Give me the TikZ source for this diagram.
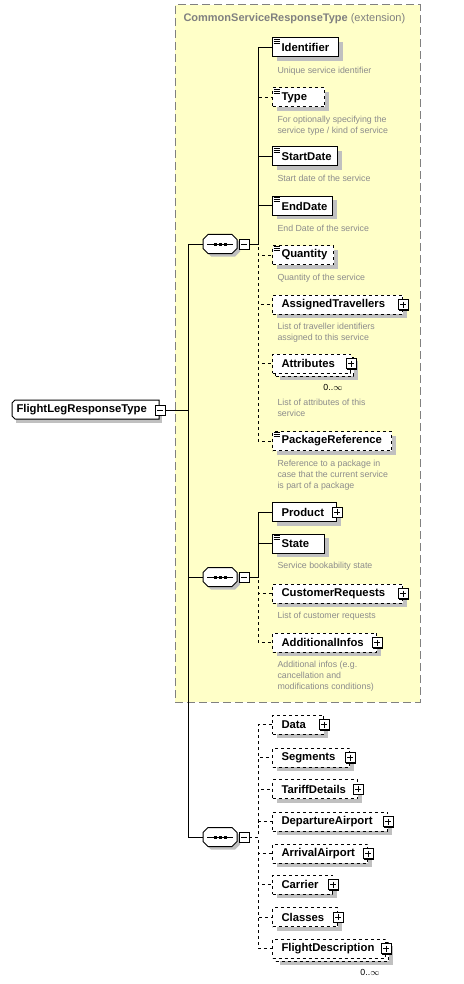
\documentclass[tikz,border=0pt]{standalone}
\usepackage{fontspec}
\setmainfont{Liberation Sans}
\usetikzlibrary{positioning,calc,shadows}
\definecolor{xsdyellow}{RGB}{255,255,200}
\definecolor{xsdgray}{RGB}{128,128,128}
\definecolor{docgray}{RGB}{140,140,140}
\definecolor{shadegray}{RGB}{192,192,192}
\tikzset{
  ext/.style={draw=xsdgray, dash pattern=on 8pt off 4pt, fill=xsdyellow, minimum width=245pt, minimum height=697pt, inner sep=0pt},
  title/.style={text=xsdgray, inner sep=0pt, font=\fontsize{11}{13}\selectfont},
  sh/.style={drop shadow={shadow xshift=4pt, shadow yshift=-4pt, fill=shadegray, opacity=1}},
  elem/.style={draw, fill=white, rectangle, anchor=west, minimum height=19pt, inner xsep=9pt, inner ysep=0pt, align=left, font=\fontsize{11.3}{13}\selectfont\bfseries},
  optelem/.style={elem, dashed},
  desc/.style={inner sep=0pt, anchor=north west, align=left, text=docgray, font=\fontsize{8.8}{11}\selectfont},
  mult/.style={inner sep=0pt, font=\fontsize{8.8}{11}\selectfont},
  root/.style={fill=white, rectangle, anchor=west, minimum height=18pt, inner xsep=4pt, inner ysep=0pt, align=left, font=\fontsize{11.3}{13}\selectfont\bfseries, drop shadow={shadow xshift=3pt, shadow yshift=-4pt, fill=shadegray, opacity=1}},
  seq/.style={rectangle, minimum width=34pt, minimum height=19pt, inner sep=0pt},
  smallbox/.style={draw, fill=white, solid, line width=.8pt, minimum size=10pt, inner sep=0pt, drop shadow={shadow xshift=1pt, shadow yshift=-1pt, fill=black, opacity=1}},
  plusbox/.style={smallbox, path picture={\draw[line width=.8pt] ([yshift=-2pt]path picture bounding box.north) -- ([yshift=2pt]path picture bounding box.south) ([xshift=2pt]path picture bounding box.west) -- ([xshift=-2pt]path picture bounding box.east);}},
  minusbox/.style={smallbox, path picture={\draw[line width=.8pt] ([xshift=2pt]path picture bounding box.west) -- ([xshift=-2pt]path picture bounding box.east);}}
}
\begin{document}
\begin{tikzpicture}[x=1pt,y=-1pt,line width=1pt]
\useasboundingbox (0,0) rectangle (463,984);

% extension base type
\node[ext] (ext) at (297.5,353.5) {};
\node[title, anchor=west] (exttitle) at (183,19) {\textbf{CommonServiceResponseType} (extension)};

% root
\node[root, text width=138pt] (root) at (12,409.5) {FlightLegResponseType};
\draw ([yshift=-3pt]root.north west) -- ([xshift=3pt]root.north west) -- (root.north east) -- (root.south east) -- ([xshift=3pt]root.south west) -- ([yshift=3pt]root.south west) -- cycle;
\node[minusbox] (rootm) at (160,410) {};

% compositors
\node[seq] (seqA) at (220,244) {};
\node[seq] (seqB) at (220,577) {};
\node[seq] (seqC) at (220,837) {};
\foreach \s in {seqA,seqB,seqC} {
  \fill[shadegray, shift={(\s)}, shift={(3,3)}] (-17,-4.5) -- (-12,-9.5) -- (12,-9.5) -- (17,-4.5) -- (17,4.5) -- (12,9.5) -- (-12,9.5) -- (-17,4.5) -- cycle;
  \draw[fill=white, shift={(\s)}] (-17,-4.5) -- (-12,-9.5) -- (12,-9.5) -- (17,-4.5) -- (17,4.5) -- (12,9.5) -- (-12,9.5) -- (-17,4.5) -- cycle;
  \draw ([xshift=4.5pt]\s.west) -- ([xshift=-4.5pt]\s.east);
  \foreach \d in {-5,0,5}
    \fill ($(\s)+(\d,0)+(-1.5,-1.5)$) rectangle ++(3,3);
}
\node[minusbox, anchor=west] (seqAm) at ([xshift=1pt]seqA.east) {};
\node[minusbox, anchor=west] (seqBm) at ([xshift=1pt]seqB.east) {};
\node[minusbox, anchor=west] (seqCm) at ([xshift=1pt]seqC.east) {};

% first sequence
\node[elem, sh, text width=48pt] (Identifier) at (272,47.5) {Identifier};
\node[optelem, sh, text width=34pt] (Type) at (272,97.5) {Type};
\node[elem, sh, text width=47pt] (StartDate) at (272,156.5) {StartDate};
\node[elem, sh, text width=42pt] (EndDate) at (272,206) {EndDate};
\node[optelem, sh, text width=43pt] (Quantity) at (272,255) {Quantity};
\node[optelem, sh, text width=112pt] (AssignedTravellers) at (272,304.5) {AssignedTravellers};
\node[plusbox] (AssignedTravellersp) at (AssignedTravellers.east) {};
\node[optelem, sh, text width=60pt] (Attributesb) at (275,366.5) {};
\node[optelem, text width=60pt] (Attributes) at (272,363.5) {Attributes};
\node[plusbox] (Attributesp) at (Attributes.east) {};
\node[mult] (Attributesn) at (333,387) {0..$\infty$};
\node[optelem, sh, text width=101pt] (PackageReference) at (272,441) {PackageReference};

\node[desc, below right=9pt and 5pt of Identifier.south west] (Identifierd) {Unique service identifier};
\node[desc, below right=8.5pt and 5pt of Type.south west] (Typed) {For optionally specifying the\\service type / kind of service};
\node[desc, below right=8.5pt and 5pt of StartDate.south west] (StartDated) {Start date of the service};
\node[desc, below right=8.5pt and 5pt of EndDate.south west] (EndDated) {End Date of the service};
\node[desc, below right=8.5pt and 5pt of Quantity.south west] (Quantityd) {Quantity of the service};
\node[desc, below right=8.5pt and 5pt of AssignedTravellers.south west] (AssignedTravellersd) {List of traveller identifiers\\assigned to this service};
\node[desc, below right=25pt and 5pt of Attributes.south west] (Attributesd) {List of attributes of this\\service};
\node[desc, below right=8.5pt and 5pt of PackageReference.south west] (PackageReferenced) {Reference to a package in\\case that the current service\\is part of a package};

% second sequence
\node[elem, sh, text width=46pt] (Product) at (272,512) {Product};
\node[plusbox] (Productp) at (Product.east) {};
\node[elem, sh, text width=34pt] (State) at (272,543.5) {State};
\node[optelem, sh, text width=112pt] (CustomerRequests) at (272,593.5) {CustomerRequests};
\node[plusbox] (CustomerRequestsp) at (CustomerRequests.east) {};
\node[optelem, sh, text width=86pt] (AdditionalInfos) at (272,642.5) {AdditionalInfos};
\node[plusbox] (AdditionalInfosp) at (AdditionalInfos.east) {};

\node[desc, below right=8.5pt and 5pt of State.south west] (Stated) {Service bookability state};
\node[desc, below right=8.5pt and 5pt of CustomerRequests.south west] (CustomerRequestsd) {List of customer requests};
\node[desc, below right=8.5pt and 5pt of AdditionalInfos.south west] (AdditionalInfosd) {Additional infos (e.g.\\cancellation and\\modifications conditions)};

% third sequence
\node[optelem, sh, text width=33pt] (Data) at (272,724.5) {Data};
\node[optelem, sh, text width=59pt] (Segments) at (272,757.5) {Segments};
\node[optelem, sh, text width=67pt] (TariffDetails) at (272,789) {TariffDetails};
\node[optelem, sh, text width=97pt] (DepartureAirport) at (272,821.5) {DepartureAirport};
\node[optelem, sh, text width=77pt] (ArrivalAirport) at (272,853.5) {ArrivalAirport};
\node[optelem, sh, text width=42pt] (Carrier) at (272,884.5) {Carrier};
\node[optelem, sh, text width=47pt] (Classes) at (272,917) {Classes};
\node[optelem, sh, text width=95pt] (FlightDescriptionb) at (275,951.5) {};
\node[optelem, text width=95pt] (FlightDescription) at (272,948.5) {FlightDescription};
\foreach \e in {Data,Segments,TariffDetails,DepartureAirport,ArrivalAirport,Carrier,Classes,FlightDescription}
  \node[plusbox] (\e p) at (\e.east) {};
\node[mult] (FlightDescriptionn) at (370,972) {0..$\infty$};

% documentation icons
\foreach \e in {Identifier,Type,StartDate,EndDate,Quantity,PackageReference,State}
  \foreach \k in {1.5,3.5,5.5}
    \draw[line width=.9pt] ($(\e.north west)+(1.5,\k)$) -- ++(6.5,0);

% connectors
\foreach \s in {seqA,seqB,seqC}
  \draw (rootm.east) -- ++(23,0) |- (\s.west);
\foreach \e in {Type,Quantity,AssignedTravellers,Attributes,PackageReference}
  \draw[dashed] (seqAm.east) -- ++(9,0) |- (\e.west);
\foreach \e in {Identifier,StartDate,EndDate}
  \draw (seqAm.east) -- ++(9,0) |- (\e.west);
\foreach \e in {CustomerRequests,AdditionalInfos}
  \draw[dashed] (seqBm.east) -- ++(9,0) |- (\e.west);
\foreach \e in {Product,State}
  \draw (seqBm.east) -- ++(9,0) |- (\e.west);
\foreach \e in {Data,Segments,TariffDetails,DepartureAirport,ArrivalAirport,Carrier,Classes,FlightDescription}
  \draw[dashed] (seqCm.east) -- ++(9,0) |- (\e.west);
\end{tikzpicture}
\end{document}
